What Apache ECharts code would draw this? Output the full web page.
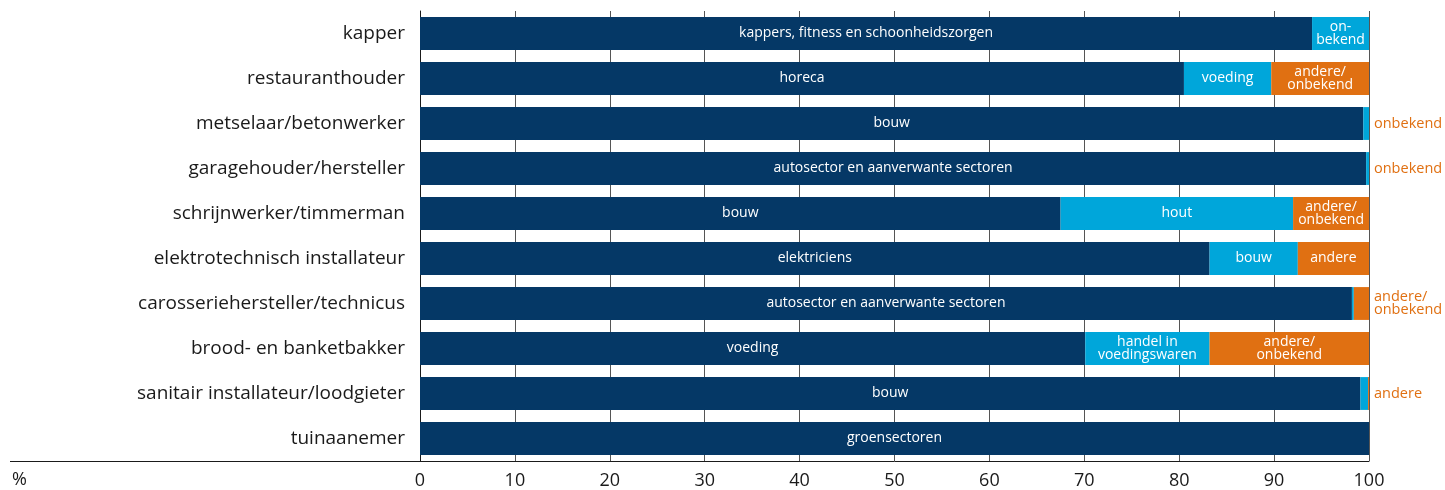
<!DOCTYPE html>
<html><head><meta charset="utf-8">
<script src="https://cdn.jsdelivr.net/npm/echarts@6/dist/echarts.min.js"></script>
<style>html,body{margin:0;padding:0;background:#fff}#c{width:1445px;height:490px}</style>
</head><body><div id="c"></div>
<script>
const categories = ["kapper","restauranthouder","metselaar/betonwerker","garagehouder/hersteller","schrijnwerker/timmerman","elektrotechnisch installateur","carosseriehersteller/technicus","brood- en banketbakker","sanitair installateur/loodgieter","tuinaanemer"];
const mainValues = [94.0, 80.5, 99.4, 99.7, 67.5, 83.2, 98.2, 70.1, 99.1, 100];
const secondValues = [6.0, 9.2, 0.6, 0.3, 24.5, 9.3, 0.2, 13.1, 0.8, 0];
const otherValues = [0, 10.3, 0, 0, 8.0, 7.5, 1.6, 16.8, 0.1, 0];
const mainLabels = ["kappers, fitness en schoonheidszorgen","horeca","bouw","autosector en aanverwante sectoren","bouw","elektriciens","autosector en aanverwante sectoren","voeding","bouw","groensectoren"];
const secondLabels = ["on-\nbekend","voeding","","","hout","bouw","","handel in\nvoedingswaren","",""];
const otherLabels = ["","andere/\nonbekend","","","andere/\nonbekend","andere","","andere/\nonbekend","",""];
const outsideLabels = ["","","onbekend","onbekend","","","andere/\nonbekend","","andere",""];
const xTicks = [0,10,20,30,40,50,60,70,80,90,100];

const FONT = 'Open Sans';
const NAVY = '#053866', CYAN = '#00a6da', ORANGE = '#e07012';
const inLabel = (arr) => ({show:true, position:'inside', color:'#fff', fontFamily:FONT, fontSize:14, lineHeight:13,
  formatter: p => arr[p.dataIndex]});

const chart = echarts.init(document.getElementById('c'), null, {renderer:'canvas'});
chart.setOption({
  animation:false,
  grid:{left:420, right:76, top:11, bottom:29, containLabel:false},
  xAxis:{type:'value', min:0, max:100, interval:10,
    axisLine:{show:true, lineStyle:{color:'#1a1a1a', width:1}},
    axisTick:{show:false},
    axisLabel:{color:'#1a1a1a', fontFamily:FONT, fontSize:18, margin:11, formatter: v => xTicks.includes(v) ? String(v) : ''},
    splitLine:{show:true, lineStyle:{color:'#555', width:1}}},
  yAxis:{type:'category', data:categories, inverse:true,
    axisLine:{show:true, lineStyle:{color:'#1a1a1a', width:1}},
    axisTick:{show:false},
    axisLabel:{color:'#1a1a1a', fontFamily:FONT, fontSize:19, margin:15}},
  series:[
    {type:'bar', stack:'s', data:mainValues, barWidth:'73%', itemStyle:{color:NAVY}, label:inLabel(mainLabels)},
    {type:'bar', stack:'s', data:secondValues, itemStyle:{color:CYAN}, label:inLabel(secondLabels)},
    {type:'bar', stack:'s', data:otherValues, itemStyle:{color:ORANGE}, label:inLabel(otherLabels)},
    {type:'bar', stack:'s', data:otherValues.map(()=>0), itemStyle:{color:'transparent'},
      label:{show:true, position:'right', distance:5, color:ORANGE, fontFamily:FONT, fontSize:14.5, lineHeight:13, align:'left',
        formatter: p => outsideLabels[p.dataIndex]}}
  ],
  graphic:[
    {type:'line', shape:{x1:10, y1:461.5, x2:420, y2:461.5}, style:{stroke:'#1a1a1a', lineWidth:1}},
    {type:'text', left:12, top:471, style:{text:'%', fill:'#1a1a1a', font:'18px "Open Sans"'}}
  ]
});
</script></body></html>
